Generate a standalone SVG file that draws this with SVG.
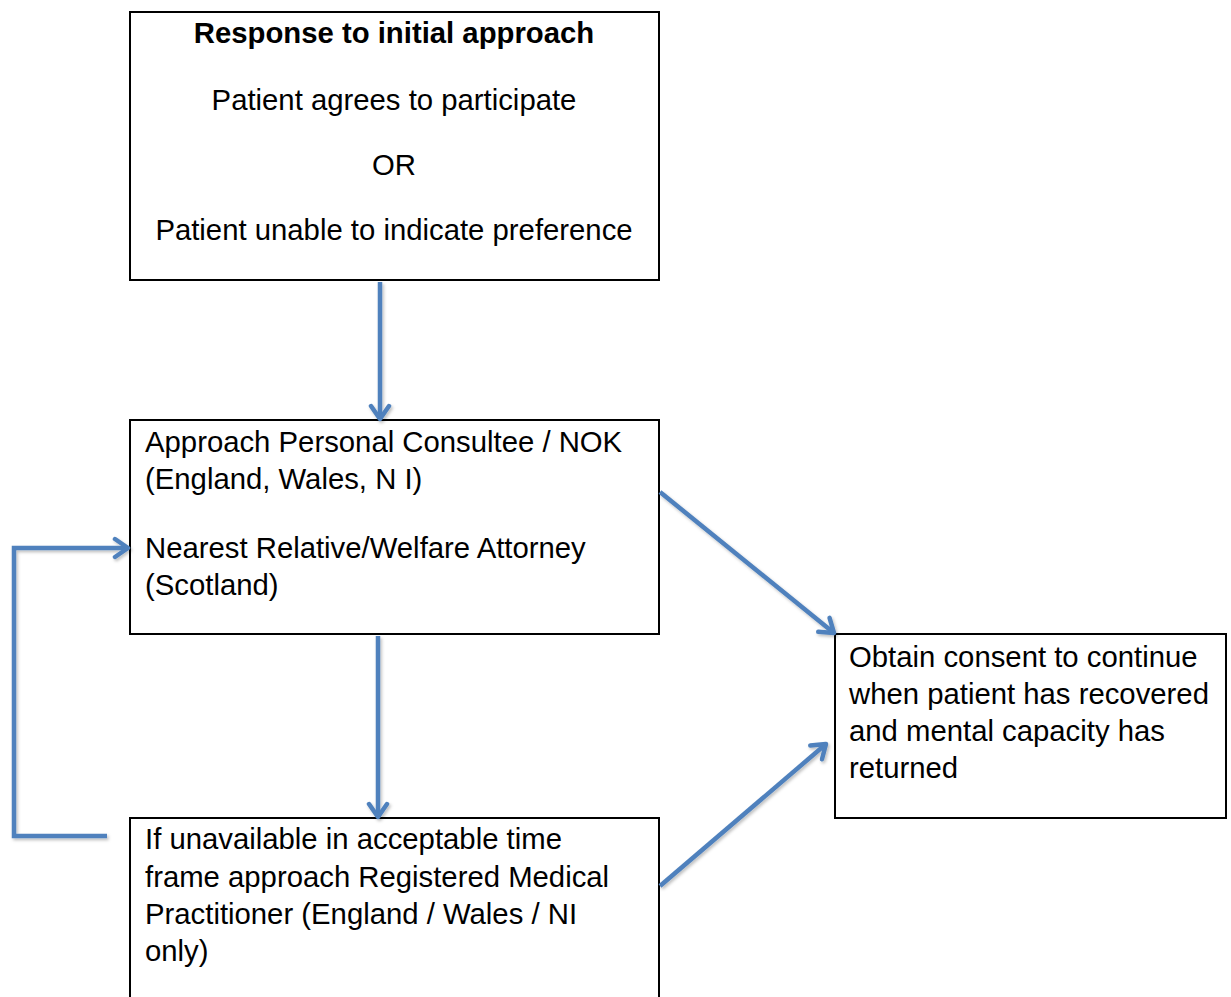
<svg xmlns="http://www.w3.org/2000/svg" width="1231" height="997" viewBox="0 0 1231 997">
<defs>
<style>
.box{fill:#fff;stroke:#000;stroke-width:2}
.t{font-family:"Liberation Sans",Arial,sans-serif;font-size:29.3px;fill:#000}
.c{text-anchor:middle}
.b{font-weight:bold}
.con{fill:none;stroke:#4F81BD;stroke-width:4.5}
</style>
<filter id="sh" x="-10%" y="-10%" width="120%" height="120%">
<feDropShadow dx="1.5" dy="2" stdDeviation="1.5" flood-color="#000" flood-opacity="0.25"/>
</filter>
<marker id="ah" viewBox="0 0 24 24" refX="21" refY="12" markerWidth="24" markerHeight="24" markerUnits="userSpaceOnUse" orient="auto">
<path d="M8,3 L21,12 L8,21" fill="none" stroke="#4F81BD" stroke-width="4.5" stroke-linecap="round" stroke-linejoin="round"/>
</marker>
</defs>
<rect width="1231" height="997" fill="#fff"/>
<g id="n1">
<rect class="box" x="130" y="12" width="529" height="268"/>
<text class="t c b" x="394" y="43">Response to initial approach</text>
<text class="t c" x="394" y="110">Patient agrees to participate</text>
<text class="t c" x="394" y="175">OR</text>
<text class="t c" x="394" y="240">Patient unable to indicate preference</text>
</g>
<g id="n2">
<rect class="box" x="130" y="420" width="529" height="214"/>
<text class="t" x="145" y="452">Approach Personal Consultee / NOK</text>
<text class="t" x="145" y="489">(England, Wales, N I)</text>
<text class="t" x="145" y="558">Nearest Relative/Welfare Attorney</text>
<text class="t" x="145" y="595">(Scotland)</text>
</g>
<g id="n3">
<rect class="box" x="130" y="818" width="529" height="190"/>
<text class="t" x="145" y="849">If unavailable in acceptable time</text>
<text class="t" x="145" y="887">frame approach Registered Medical</text>
<text class="t" x="145" y="924">Practitioner (England / Wales / NI</text>
<text class="t" x="145" y="961">only)</text>
</g>
<g id="n4">
<rect class="box" x="835" y="634" width="391" height="184"/>
<text class="t" x="849" y="667">Obtain consent to continue</text>
<text class="t" x="849" y="704">when patient has recovered</text>
<text class="t" x="849" y="741">and mental capacity has</text>
<text class="t" x="849" y="778">returned</text>
</g>
<g id="connectors" filter="url(#sh)">
<line class="con" x1="380" y1="282" x2="380" y2="419" marker-end="url(#ah)"/>
<line class="con" x1="378" y1="636" x2="378" y2="817" marker-end="url(#ah)"/>
<line class="con" x1="660" y1="492" x2="834" y2="633" marker-end="url(#ah)"/>
<line class="con" x1="660" y1="886" x2="826" y2="744" marker-end="url(#ah)"/>
<polyline class="con" points="107,836 14,836 14,548 128,548" marker-end="url(#ah)"/>
</g>
</svg>
